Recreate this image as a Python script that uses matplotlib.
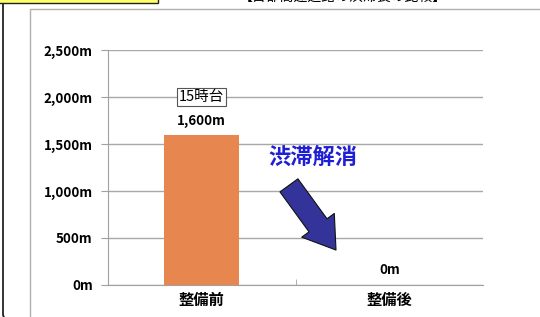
import matplotlib
matplotlib.use("Agg")
import matplotlib.pyplot as plt
from matplotlib.patches import FancyBboxPatch, Rectangle

plt.rcParams['font.family'] = ['Noto Sans CJK JP', 'DejaVu Sans']

categories = ['整備前', '整備後']
values = [1600, 0]
value_labels = ['1,600m', '0m']
yticks = [0, 500, 1000, 1500, 2000, 2500]
ytick_labels = ['0m', '500m', '1,000m', '1,500m', '2,000m', '2,500m']

fig = plt.figure(figsize=(5.4, 3.17), dpi=100)

# outer frame (rounded, black) and chart frame (gray)
fig.patches.append(FancyBboxPatch((3/540, -4/317), 1.2, 1.2, boxstyle="round,pad=0,rounding_size=0.022",
                                  transform=fig.transFigure, fill=False, edgecolor='#222222', linewidth=1.3))
fig.patches.append(Rectangle((30/540, -0.1), 1.2, 1 - 9/317 + 0.1, transform=fig.transFigure,
                             fill=False, edgecolor='#b0b0b0', linewidth=1.0))
# yellow title box (cropped at top)
fig.patches.append(Rectangle((-0.01, 1 - 3/317), 158/540 + 0.01, 0.1, transform=fig.transFigure,
                             facecolor='#ffff66', edgecolor='#222222', linewidth=1.0))
fig.text(0.635, 1 + 3.5/317, '【首都高速道路の渋滞長の比較】', ha='center', va='center', fontsize=10)

ax = fig.add_axes([108/540, 1 - 285/317, 375/540, (285 - 50)/317])
x = [0, 1]
ax.bar(x, values, width=0.4, color='#e8864f', zorder=2)
ax.set_xlim(-0.5, 1.5)
ax.set_ylim(0, 2500)
ax.set_yticks(yticks)
ax.set_yticklabels(ytick_labels, fontsize=9.6, fontweight='bold')
ax.set_xticks(x)
ax.set_xticklabels(categories, fontsize=11, fontweight='bold')
ax.tick_params(axis='x', length=0, pad=5)
ax.tick_params(axis='y', length=5, color='#a0a0a0', pad=6)
ax.set_xticks([0.5], minor=True)
ax.tick_params(axis='x', which='minor', length=4, color='#a0a0a0', direction='in')
ax.grid(axis='y', color='#a8a8a8', linewidth=1.0, zorder=0)
for s in ['top', 'right']:
    ax.spines[s].set_visible(False)
for s in ['left', 'bottom']:
    ax.spines[s].set_color('#a0a0a0')

for xi, v, lab in zip(x, values, value_labels):
    ax.annotate(lab, (xi, v), xytext=(0, 9.5 if v > 0 else 10.8), textcoords='offset points',
                ha='center', va='center', fontsize=9.6, fontweight='bold')

ax.annotate('15時台', (0, 1600), xytext=(0, 27), textcoords='offset points', ha='center', va='center',
            fontsize=10.5, bbox=dict(boxstyle='square,pad=0.12', facecolor='white', edgecolor='#555555', lw=0.8))

ax.text(0.595, 1360, '渋滞解消', ha='center', va='center', fontsize=16, fontweight='bold', color='#1f1fd6')

ax.annotate('', xy=(0.716, 372), xytext=(0.465, 1060),
            arrowprops=dict(arrowstyle='simple,head_width=2.9,head_length=2.2,tail_width=1.6',
                            mutation_scale=10, facecolor='#333399', edgecolor='#111111', lw=0.8,
                            shrinkA=0, shrinkB=0))

fig.savefig('out.png', dpi=100)
